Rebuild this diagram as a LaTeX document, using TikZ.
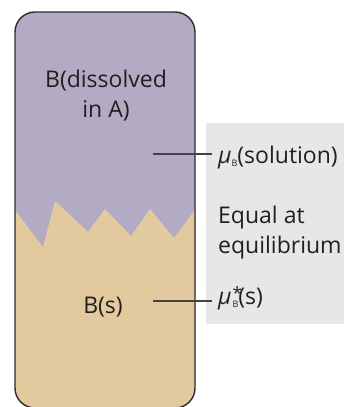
\documentclass[tikz,border=0pt]{standalone}
\usepackage{fontspec}
\setmainfont{Open Sans}
\definecolor{solnpurple}{HTML}{B3AAC4}
\definecolor{solidtan}{HTML}{E3C99E}
\definecolor{panelgray}{HTML}{E6E7E9}
\definecolor{ink}{HTML}{231F20}
\newcommand{\subB}{\raisebox{-3.5pt}{\fontsize{9}{9}\selectfont B}}
\newcommand{\starB}{\kern1pt\makebox[0pt][l]{\raisebox{5pt}{\fontsize{17}{17}\selectfont *}}\subB}
\begin{document}
\begin{tikzpicture}[x=1pt,y=-1pt,
  lab/.style={font=\fontsize{23}{30}\selectfont,text=ink,inner sep=0pt},
  lead/.style={draw=ink!85,line width=1.2pt}]
  \useasboundingbox (0,0) rectangle (344,407);
  \fill[panelgray] (206,123) rectangle (344,324);
  % vessel: solution on top, solid B below the jagged surface
  \begin{scope}
    \clip[rounded corners=20pt] (15,12) rectangle (195,408);
    \fill[solnpurple] (10,0) rectangle (200,420);
    \fill[solidtan] (10,210) -- (15,210) -- (43,247) -- (55,201) -- (88,232)
      -- (105,209) -- (131,236) -- (150,209) -- (174,238) -- (195,210)
      -- (200,210) -- (200,420) -- (10,420) -- cycle;
  \end{scope}
  \draw[ink!95,line width=1.4pt,rounded corners=20pt] (15,12) rectangle (195,408);
  \node[lab,align=center,anchor=base] (dissolved) at (106,117) {B(dissolved\\in A)};
  \node[lab,anchor=base] (solidB) at (103,313) {B(s)};
  \node[lab,anchor=base west] (musoln) at (218,163) {{\itshape μ}\subB(solution)};
  \node[lab,anchor=base west,align=left] (equal) at (218,253) {Equal at\\equilibrium};
  \node[lab,anchor=base west] (musolid) at (218,304) {{\itshape μ}\starB(s)};
  \coordinate (solnpt) at (153,154);
  \coordinate (solidpt) at (153,301);
  \draw[lead,shorten >=6pt] (solnpt) -- (solnpt -| musoln.west);
  \draw[lead,shorten >=6pt] (solidpt) -- (solidpt -| musolid.west);
\end{tikzpicture}
\end{document}
